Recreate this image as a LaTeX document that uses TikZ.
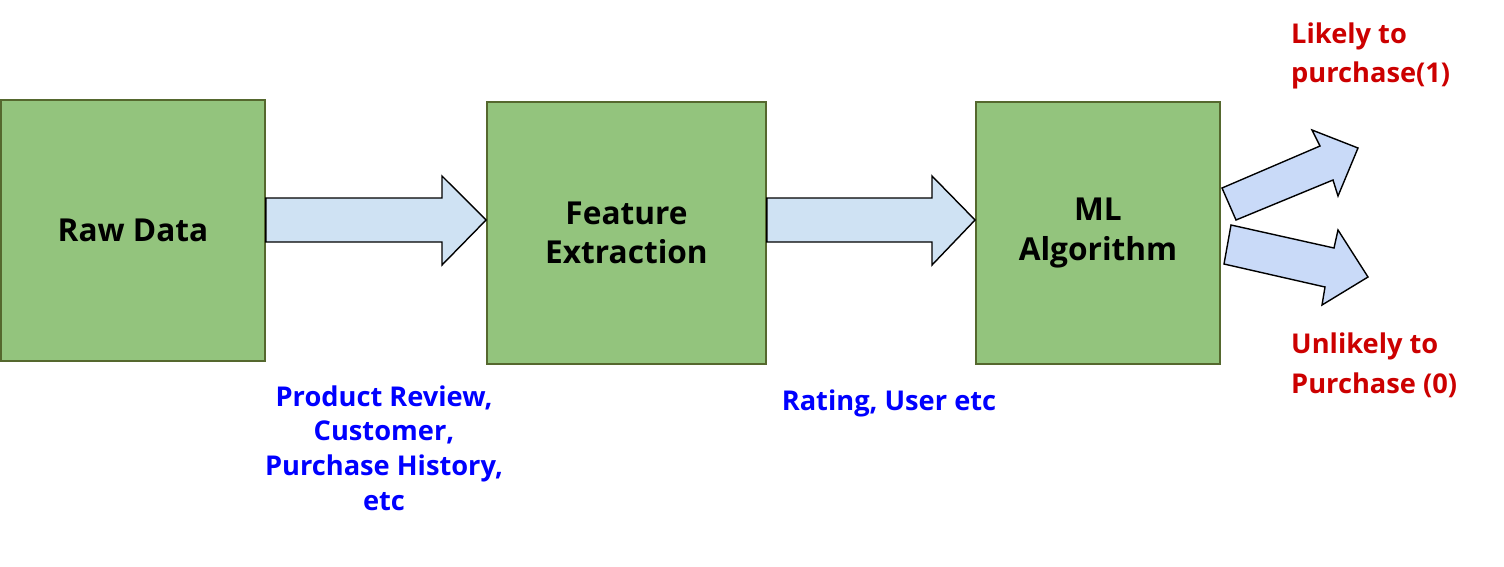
\documentclass[tikz,border=0pt]{standalone}
\usepackage{fontspec}
\setmainfont{Open Sans}
\usepackage{xcolor}
\usepackage{tikz}

\definecolor{boxgreen}{HTML}{93C47D}
\definecolor{boxline}{HTML}{55682E}
\definecolor{arrowblue}{HTML}{CFE2F3}
\definecolor{arrowblue2}{HTML}{C9DAF8}
\definecolor{notered}{HTML}{CC0000}

\tikzset{
  box/.style={draw=boxline, fill=boxgreen, line width=1.1pt, align=center,
    font=\fontsize{18}{22.2}\selectfont\bfseries, inner sep=0pt},
  bigarrow/.style={draw=black, fill=arrowblue, line width=0.8pt, line join=miter},
  outarrow/.style={draw=black, fill=arrowblue2, line width=0.8pt, line join=miter},
  note/.style={text=blue, align=center, font=\fontsize{15.5}{19.8}\selectfont\bfseries},
  outcome/.style={text=notered, align=left, anchor=west, font=\fontsize{15.5}{22.6}\selectfont\bfseries}
}

\begin{document}
\begin{tikzpicture}[x=0.02cm,y=-0.02cm]
  \useasboundingbox (0,0) rectangle (1504,566);
  \node[box, minimum width=5.28cm, minimum height=5.22cm] (raw) at (133,230.5) {Raw Data};
  \node[box, minimum width=5.58cm, minimum height=5.24cm] (feat) at (626.5,233) {Feature\\Extraction};
  \node[box, minimum width=4.88cm, minimum height=5.24cm] (ml) at (1098,233) {ML\\Algorithm};
  % block arrows between the boxes
  \draw[bigarrow] (raw.east |- 0,198) -- (442,198) -- (442,176) -- (feat.west |- 0,220)
    -- (442,265) -- (442,242) -- (raw.east |- 0,242) -- cycle;
  \draw[bigarrow] (feat.east |- 0,198) -- (932,198) -- (932,176) -- (ml.west |- 0,220)
    -- (932,265) -- (932,242) -- (feat.east |- 0,242) -- cycle;
  % the two outcomes
  \draw[outarrow] (1222,188) -- (1320,146) -- (1312,130) -- (1358,148) -- (1338,196)
    -- (1333,180) -- (1236,220) -- cycle;
  \draw[outarrow] (1231,225) -- (1334,248) -- (1338,230) -- (1368,277) -- (1322,305)
    -- (1325,287) -- (1224,264) -- cycle;
  \node[note] (rawtxt) at (384,448) {Product Review,\\Customer,\\Purchase History,\\etc};
  \node[note] (feattxt) at (889,403) {Rating, User etc};
  \node[outcome] (yes) at (1285,56) {Likely to\\purchase(1)};
  \node[outcome] (no) at (1285,365) {Unlikely to\\Purchase (0)};
\end{tikzpicture}
\end{document}
